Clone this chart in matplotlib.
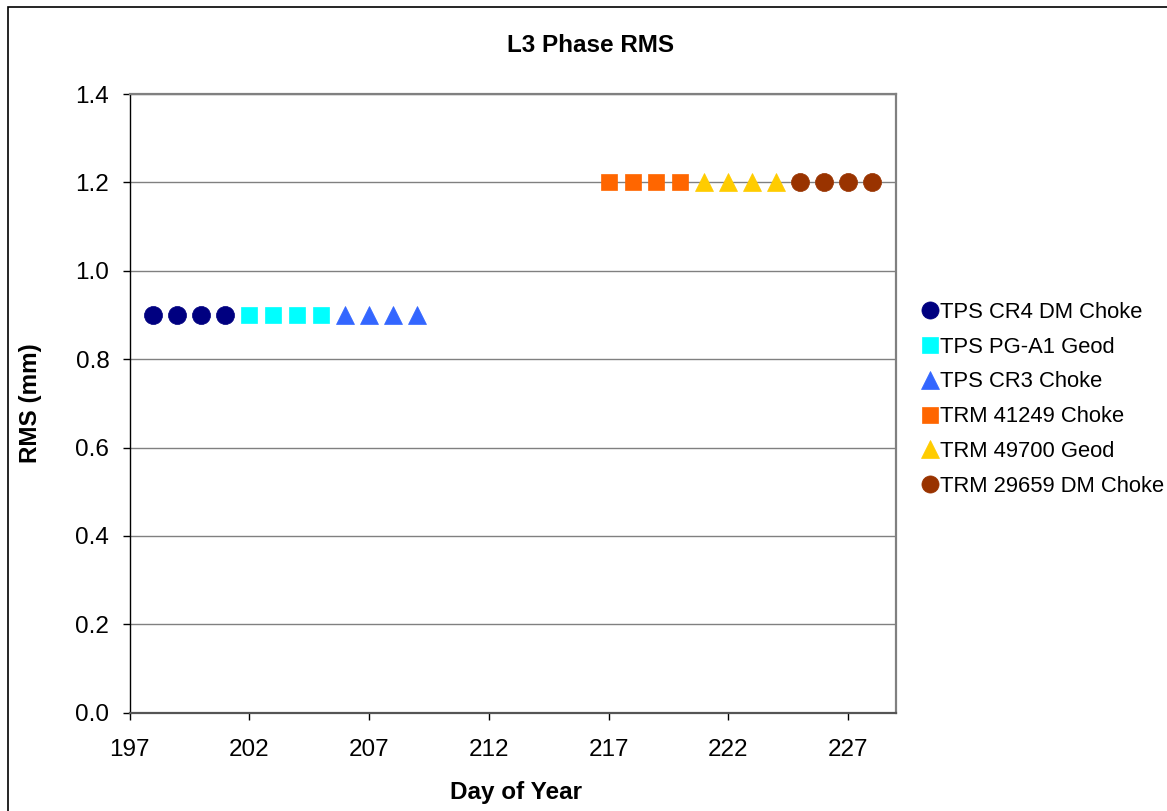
import matplotlib
matplotlib.use("Agg")
import matplotlib.pyplot as plt
from matplotlib.patches import Rectangle

plt.rcParams['font.family'] = ['Liberation Sans', 'DejaVu Sans']

# series data
labels = ["TPS CR4 DM Choke", "TPS PG-A1 Geod", "TPS CR3 Choke",
          "TRM 41249 Choke", "TRM 49700 Geod", "TRM 29659 DM Choke"]
days = [[198, 199, 200, 201],
        [202, 203, 204, 205],
        [206, 207, 208, 209],
        [217, 218, 219, 220],
        [221, 222, 223, 224],
        [225, 226, 227, 228]]
rms = [[0.9, 0.9, 0.9, 0.9],
       [0.9, 0.9, 0.9, 0.9],
       [0.9, 0.9, 0.9, 0.9],
       [1.2, 1.2, 1.2, 1.2],
       [1.2, 1.2, 1.2, 1.2],
       [1.2, 1.2, 1.2, 1.2]]
x_ticks = [197, 202, 207, 212, 217, 222, 227]
y_ticks = [0.0, 0.2, 0.4, 0.6, 0.8, 1.0, 1.2, 1.4]

colors = ["#000080", "#00FFFF", "#3366FF", "#FF6600", "#FFCC00", "#993300"]
markers = ["o", "s", "^", "s", "^", "o"]
msizes = [13, 11.7, 13, 11.7, 13, 13]

fig = plt.figure(figsize=(11.67, 8.11), dpi=100)
ax = fig.add_axes([129.5 / 1167, 1 - 712.7 / 811, (896 - 129.5) / 1167, (712.7 - 94) / 811])

for d, v, c, m, s, lab in zip(days, rms, colors, markers, msizes, labels):
    ax.plot(d, v, linestyle='none', marker=m, markersize=s, color=c,
            markeredgecolor=c, markeredgewidth=0.5, label=lab, zorder=3)

ax.set_xlim(197, 229)
ax.set_ylim(0, 1.4)
ax.set_xticks(x_ticks)
ax.set_yticks(y_ticks)
ax.set_yticklabels([f"{t:.1f}" for t in y_ticks])
ax.tick_params(labelsize=17.5, length=5, width=1, direction='out', colors='black')
ax.tick_params(axis='x', pad=14)
ax.tick_params(axis='y', pad=9.5)

ax.yaxis.grid(True, color='#808080', linewidth=1)
ax.set_axisbelow(True)

ax.spines['left'].set_color('black')
ax.spines['left'].set_linewidth(1)
ax.spines['bottom'].set_color('#555555')
ax.spines['bottom'].set_linewidth(1.6)
ax.spines['top'].set_color('#808080')
ax.spines['top'].set_linewidth(1.6)
ax.spines['right'].set_color('#808080')
ax.spines['right'].set_linewidth(1.6)

fig.text(591 / 1167, 1 - 46 / 811, "L3 Phase RMS", ha='center', va='center',
         fontsize=17.5, fontweight='bold')
fig.text(516 / 1167, 1 - 792 / 811, "Day of Year", ha='center', va='center',
         fontsize=17.5, fontweight='bold')
fig.text(30 / 1167, 1 - 403 / 811, "RMS (mm)", ha='center', va='center',
         fontsize=17.5, fontweight='bold', rotation=90)

fig.legend(loc='upper left', bbox_to_anchor=(914 / 1167, 1 - 293 / 811),
           frameon=False, fontsize=15.8, markerscale=0.95, handlelength=0.7,
           handletextpad=0.1, labelspacing=0.63, borderaxespad=0)

# outer chart border
fig.patches.append(Rectangle((8 / 1167, -0.1), 1.2, 1 - 7 / 811 + 0.1,
                             transform=fig.transFigure, fill=False,
                             edgecolor='black', linewidth=1.2))

fig.savefig("out.png", dpi=100)
